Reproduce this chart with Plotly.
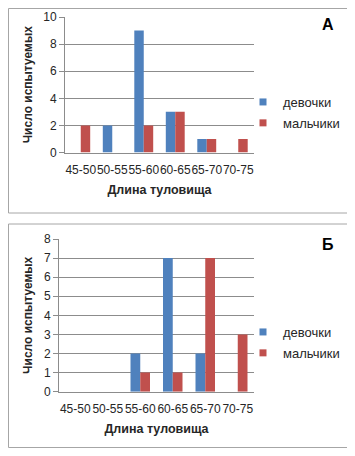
import plotly.graph_objects as go

categories = ["45-50", "50-55", "55-60", "60-65", "65-70", "70-75"]
girls_a = [0, 2, 9, 3, 1, 0]
boys_a = [2, 0, 2, 3, 1, 1]
girls_b = [0, 0, 2, 7, 2, 0]
boys_b = [0, 0, 1, 1, 7, 3]
series_names = ["девочки", "мальчики"]
panel_labels = ["А", "Б"]
x_title = "Длина туловища"
y_title = "Число испытуемых"

OX, OY = 8, 8  # page body margin offset
W, H = 355 - OX, 456 - 2 * OY
BLUE = "#4F81BD"
RED = "#C0504D"
GRID = "#8C8C8C"
FONT = "Liberation Sans"


def px(x):
    return (x - OX) / W


def py(y):
    return 1 - (y - OY) / H


fig = go.Figure()

panels = [
    dict(girls=girls_a, boys=boys_a, xa="x", ya="y", legend="legend",
         xdom=[px(65), px(254)], ydom=[py(152.5), py(17)], yrange=[0, 10], dtick=2,
         box=(8.5, 8.5, 352, 213), label_y=25, leg_y=87),
    dict(girls=girls_b, boys=boys_b, xa="x2", ya="y2", legend="legend2",
         xdom=[px(59), px(254)], ydom=[py(391.7), py(239)], yrange=[0, 8], dtick=1,
         box=(8.5, 224, 352, 447.5), label_y=244, leg_y=317),
]

for i, p in enumerate(panels):
    for name, vals, col in [(series_names[0], p["girls"], BLUE), (series_names[1], p["boys"], RED)]:
        fig.add_trace(go.Bar(
            x=categories, y=vals, name=name, xaxis=p["xa"], yaxis=p["ya"],
            marker=dict(color=col, line=dict(width=0)),
            showlegend=False, legendgroup=f"{name}{i}",
        ))
        fig.add_trace(go.Scatter(
            x=[None], y=[None], mode="markers", name=name,
            marker=dict(symbol="square", size=7, color=col),
            xaxis=p["xa"], yaxis=p["ya"], legend=p["legend"], legendgroup=f"{name}{i}",
            showlegend=True,
        ))

axis_common = dict(
    showline=True, linecolor=GRID, linewidth=1, mirror=False,
    tickfont=dict(family=FONT, size=12, color="#262626"),
    zeroline=False, fixedrange=True, automargin=False,
)

layout = dict(
    width=W, height=H, margin=dict(l=0, r=0, t=0, b=0),
    paper_bgcolor="white", plot_bgcolor="white",
    barmode="group", bargap=0.4, bargroupgap=0,
    font=dict(family=FONT, color="#262626"),
    shapes=[], annotations=[],
)

for i, p in enumerate(panels):
    sfx = "" if i == 0 else "2"
    layout["xaxis" + sfx] = dict(
        domain=p["xdom"], anchor="y" + sfx, type="category",
        showgrid=False, ticks="", tickangle=0, ticklabelstandoff=6,
        title=dict(text=f"<b>{x_title}</b>", font=dict(family=FONT, size=12.5, color="#262626"), standoff=9),
        **axis_common,
    )
    layout["yaxis" + sfx] = dict(
        domain=p["ydom"], anchor="x" + sfx, range=p["yrange"], dtick=p["dtick"],
        showgrid=True, gridcolor=GRID, gridwidth=1,
        ticks="outside", ticklen=5, tickcolor=GRID,
        title=dict(text=f"<b>{y_title}</b>", font=dict(family=FONT, size=12, color="#262626"), standoff=8),
        **axis_common,
    )
    x0, y0, x1, y1 = p["box"]
    layout["shapes"].append(dict(
        type="rect", xref="paper", yref="paper",
        x0=px(x0), x1=px(x1), y0=py(y1), y1=py(y0),
        line=dict(color="#A6A6A6", width=1), fillcolor="rgba(0,0,0,0)", layer="below",
    ))
    layout["annotations"].append(dict(
        text=f"<b>{panel_labels[i]}</b>", xref="paper", yref="paper",
        x=px(328), y=py(p["label_y"]), xanchor="center", yanchor="middle",
        showarrow=False, font=dict(family=FONT, size=16, color="black"),
    ))
    layout["legend" + sfx] = dict(
        x=px(243), y=py(p["leg_y"]), xanchor="left", yanchor="top",
        bgcolor="rgba(0,0,0,0)", tracegroupgap=1, itemclick=False,
        font=dict(family=FONT, size=13, color="#262626"),
    )

fig.update_layout(**layout)
fig.write_html("out.html")
